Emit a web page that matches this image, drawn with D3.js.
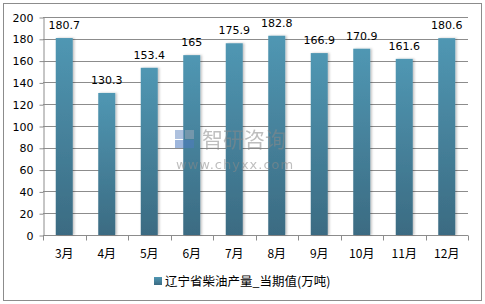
<!DOCTYPE html>
<html>
<head>
<meta charset="utf-8">
<script src="https://cdn.jsdelivr.net/npm/d3@7"></script>
<style>
  body { margin: 0; background: #fff; }
  svg { display: block; }
</style>
</head>
<body>
<div id="chart"></div>
<script>
// data
const months = ["3月", "4月", "5月", "6月", "7月", "8月", "9月", "10月", "11月", "12月"];
const output = [180.7, 130.3, 153.4, 165, 175.9, 182.8, 166.9, 170.9, 161.6, 180.6];
const yTicks = [0, 20, 40, 60, 80, 100, 120, 140, 160, 180, 200];
const seriesName = "辽宁省柴油产量_当期值(万吨)";

const W = 485, H = 304;
const margin = { top: 17, right: 17, bottom: 69, left: 43 },
  width = W - margin.left - margin.right,
  height = H - margin.top - margin.bottom;

const root = d3.select("#chart")
  .append("svg")
  .attr("width", W)
  .attr("height", H);

// outer frame
root.append("rect")
  .attr("x", 3.5).attr("y", 3.5)
  .attr("width", W - 7).attr("height", H - 7)
  .attr("fill", "none")
  .attr("stroke", "#8c8c8c");

const defs = root.append("defs");
const grad = defs.append("linearGradient")
  .attr("id", "barGrad")
  .attr("x1", 0).attr("y1", 0).attr("x2", 0).attr("y2", 1);
grad.append("stop").attr("offset", "0%").attr("stop-color", "#5097b3");
grad.append("stop").attr("offset", "100%").attr("stop-color", "#3b6b82");

const shadow = defs.append("filter").attr("id", "shadow")
  .attr("x", "-30%").attr("y", "-10%").attr("width", "160%").attr("height", "120%");
shadow.append("feDropShadow")
  .attr("dx", 1.5).attr("dy", 0).attr("stdDeviation", 1)
  .attr("flood-color", "#000").attr("flood-opacity", 0.25);

const svg = root.append("g")
  .attr("transform", `translate(${margin.left}, ${margin.top})`);

const x = d3.scaleBand()
  .domain(months)
  .range([0, width])
  .paddingInner(0.6)
  .paddingOuter(0.3);

const y = d3.scaleLinear()
  .domain([0, 200])
  .range([height, 0]);

// gridlines
svg.append("g")
  .selectAll("line")
  .data(yTicks.filter(d => d > 0))
  .join("line")
  .attr("x1", 0).attr("x2", width)
  .attr("y1", d => Math.round(y(d)) + 0.5)
  .attr("y2", d => Math.round(y(d)) + 0.5)
  .attr("stroke", "#8c8c8c");

// y axis
const yAxis = svg.append("g")
  .attr("transform", "translate(0.5,0.5)")
  .call(d3.axisLeft(y).tickValues(yTicks).tickSize(4).tickSizeOuter(0));
yAxis.select(".domain").attr("stroke", "#8c8c8c");
yAxis.selectAll(".tick line").attr("stroke", "#8c8c8c");
yAxis.selectAll("text")
  .attr("x", -10)
  .attr("fill", "#000")
  .style("font-family", "'DejaVu Sans', sans-serif")
  .style("font-size", "11px");

// x axis baseline + boundary ticks
const xAxis = svg.append("g").attr("transform", `translate(0, ${Math.round(height) + 0.5})`);
xAxis.append("line")
  .attr("x1", 0).attr("x2", width)
  .attr("stroke", "#8c8c8c");
xAxis.selectAll("line.tk")
  .data(d3.range(months.length + 1))
  .join("line")
  .attr("class", "tk")
  .attr("x1", i => Math.round(i * x.step()) + 0.5)
  .attr("x2", i => Math.round(i * x.step()) + 0.5)
  .attr("y1", 0).attr("y2", 5)
  .attr("stroke", "#8c8c8c");
xAxis.selectAll("text")
  .data(months)
  .join("text")
  .attr("x", d => x(d) + x.bandwidth() / 2)
  .attr("y", 22)
  .attr("text-anchor", "middle")
  .style("font-family", "'Noto Sans CJK SC', sans-serif")
  .style("font-size", "12px")
  .text(d => d);

// bars
svg.selectAll("rect.bar")
  .data(output)
  .join("rect")
  .attr("class", "bar")
  .attr("x", (d, i) => x(months[i]))
  .attr("y", d => y(d))
  .attr("width", x.bandwidth())
  .attr("height", d => height - y(d))
  .attr("fill", "url(#barGrad)")
  .attr("filter", "url(#shadow)");

// value labels
svg.selectAll("text.val")
  .data(output)
  .join("text")
  .attr("class", "val")
  .attr("x", (d, i) => x(months[i]) + x.bandwidth() / 2)
  .attr("y", d => y(d) - 9)
  .attr("text-anchor", "middle")
  .style("font-family", "'DejaVu Sans', sans-serif")
  .style("font-size", "11px")
  .text(d => d);

// watermark
const wm = root.append("g").attr("opacity", 0.55);
wm.append("rect").attr("x", 175).attr("y", 130).attr("width", 9).attr("height", 9).attr("fill", "#6d8fc4");
wm.append("rect").attr("x", 185).attr("y", 130).attr("width", 9).attr("height", 9).attr("fill", "#9aa7b8");
wm.append("rect").attr("x", 175).attr("y", 140).attr("width", 19).attr("height", 8).attr("fill", "#4f7cc0");
wm.append("text")
  .attr("x", 202).attr("y", 147)
  .style("font-family", "'Noto Sans CJK SC', sans-serif")
  .style("font-size", "21px")
  .attr("fill", "#8a8a8a")
  .text("智研咨询");
wm.append("text")
  .attr("x", 176).attr("y", 169)
  .style("font-family", "'DejaVu Sans', sans-serif")
  .style("font-size", "13px")
  .attr("letter-spacing", "1")
  .attr("fill", "#8a8a8a")
  .text("www.chyxx.com");

// legend
const legend = root.append("g").attr("transform", "translate(154, 277)");
legend.append("rect")
  .attr("width", 8).attr("height", 8)
  .attr("fill", "url(#barGrad)");
legend.append("text")
  .attr("x", 11).attr("y", 8.5)
  .style("font-family", "'Noto Sans CJK SC', sans-serif")
  .style("font-size", "12.5px")
  .text(seriesName);
</script>
</body>
</html>
